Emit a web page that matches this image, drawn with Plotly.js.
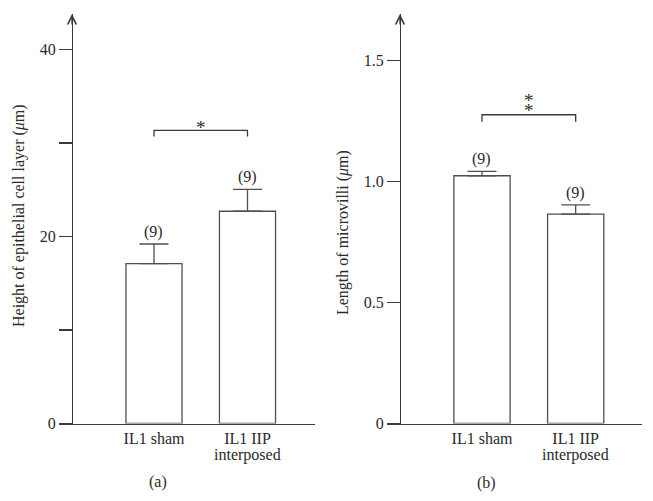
<!DOCTYPE html>
<html>
<head>
<meta charset="utf-8">
<script src="https://cdn.plot.ly/plotly-3.0.1.min.js"></script>
<style>
  html, body { margin:0; padding:0; background:#fff; }
  #chart { width:653px; height:501px; }
</style>
</head>
<body>
<div id="chart"></div>
<script>
// Data
var groups = ["IL1 sham", "IL1 IIP"];
var groupSub = ["", "interposed"];
var groupPos = [0, 1];
var nCounts = [9, 9];

// (a) height of epithelial cell layer (um)
var heightMean = [17.1, 22.7];
var heightSem = [2.1, 2.35];
var bracketA = 31.35, bracketALeg = 30.7;

// (b) length of microvilli (um)
var villiMean = [1.023, 0.865];
var villiSem = [0.018, 0.038];
var bracketB = 1.275, bracketBLeg = 1.246;

var FONT = "Liberation Serif, Times New Roman, serif";
var AX = "#3a3a3a", BAR = "#505050";
var W = 653, H = 501;

function barTrace(y, err, xa, ya) {
  return {
    type: "bar", x: groupPos, y: y, width: 0.6, xaxis: xa, yaxis: ya,
    marker: { color: "#fff", line: { color: BAR, width: 1.3 } },
    error_y: { type: "data", symmetric: false, array: err, arrayminus: [0, 0],
      width: 14.5, thickness: 1.3, color: BAR },
    hoverinfo: "skip", showlegend: false
  };
}
function bracketTrace(hi, lo, xa, ya) {
  return {
    type: "scatter", mode: "lines", x: [groupPos[0], groupPos[0], groupPos[1], groupPos[1]],
    y: [lo, hi, hi, lo], xaxis: xa, yaxis: ya,
    line: { color: AX, width: 1.3 }, hoverinfo: "skip", showlegend: false
  };
}

var data = [
  barTrace(heightMean, heightSem, "x", "y"),
  bracketTrace(bracketA, bracketALeg, "x", "y"),
  barTrace(villiMean, villiSem, "x2", "y2"),
  bracketTrace(bracketB, bracketBLeg, "x2", "y2")
];

var yBottom = 1 - 423.5 / H, yTop = 1 - 14 / H;
var txt = { family: FONT, size: 16, color: "#2a2a2a" };
var xAxisBase = {
  type: "linear", showline: true, linecolor: AX, linewidth: 1.3, showgrid: false, zeroline: false,
  ticks: "", tickvals: groupPos, ticktext: groups, tickfont: txt, fixedrange: true
};
var yAxisBase = {
  showline: true, linecolor: AX, linewidth: 1.3, showgrid: false, zeroline: false,
  ticks: "outside", ticklen: 13, tickwidth: 1.3, tickcolor: AX,
  tickfont: txt, domain: [yBottom, yTop], anchor: "free", fixedrange: true
};

var layout = {
  width: W, height: H, margin: { l: 0, r: 0, t: 0, b: 0 },
  paper_bgcolor: "#fff", plot_bgcolor: "rgba(0,0,0,0)", showlegend: false,
  xaxis: Object.assign({}, xAxisBase, { domain: [59 / W, 315 / W], range: [-1.016, 1.722], anchor: "y" }),
  yaxis: Object.assign({}, yAxisBase, { range: [0, 43.8], position: 72 / W,
    tickvals: [0, 10, 20, 30, 40], ticktext: ["0", "", "20", "", "40"] }),
  xaxis2: Object.assign({}, xAxisBase, { domain: [386.7 / W, 642.3 / W], range: [-1.017, 1.711], anchor: "y2" }),
  yaxis2: Object.assign({}, yAxisBase, { range: [0, 1.691], position: 400 / W,
    tickvals: [0, 0.5, 1.0, 1.5], ticktext: ["0", "0.5", "1.0", "1.5"] }),
  annotations: []
};

var ann = layout.annotations;
var star = { family: FONT, size: 19, color: "#2a2a2a" };

function paperText(x, y, text, extra) {
  ann.push(Object.assign({ xref: "paper", yref: "paper", x: x / W, y: 1 - y / H,
    xanchor: "center", yanchor: "middle", text: text, showarrow: false, font: txt }, extra || {}));
}

// axis arrows
[72 / W, 400 / W].forEach(function (px) {
  ann.push({ xref: "paper", yref: "paper", x: px, y: yTop, ax: 0, ay: 12, text: "",
    showarrow: true, arrowhead: 5, arrowsize: 1.3, arrowwidth: 1.3, arrowcolor: AX });
});

// second line of the category labels (tighter than a <br>)
["x", "x2"].forEach(function (xr) {
  for (var i = 0; i < groupSub.length; i++) {
    if (!groupSub[i]) continue;
    ann.push({ xref: xr, yref: "paper", x: groupPos[i], y: 1 - 455 / H, yanchor: "middle",
      text: groupSub[i], showarrow: false, font: txt });
  }
});

// n labels
function nLabels(mean, err, xr, yr) {
  for (var i = 0; i < mean.length; i++) {
    ann.push({ xref: xr, yref: yr, x: groupPos[i], y: mean[i] + err[i], yanchor: "bottom",
      yshift: 1, text: "(" + nCounts[i] + ")", showarrow: false, font: txt });
  }
}
nLabels(heightMean, heightSem, "x", "y");
nLabels(villiMean, villiSem, "x2", "y2");

// significance stars
ann.push({ xref: "x", yref: "y", x: 0.5, y: bracketA, yanchor: "middle", yshift: 3,
  text: "*", showarrow: false, font: star });
ann.push({ xref: "x2", yref: "y2", x: 0.5, y: bracketB, yanchor: "middle", yshift: 4,
  text: "*", showarrow: false, font: star });
ann.push({ xref: "x2", yref: "y2", x: 0.5, y: bracketB, yanchor: "middle", yshift: 14,
  text: "*", showarrow: false, font: star });

// y titles
paperText(19, 216, "Height of epithelial cell layer (<i>μ</i>m)", { textangle: -90 });
paperText(343, 233, "Length of microvilli (<i>μ</i>m)", { textangle: -90 });

// panel letters
paperText(158, 482, "(a)");
paperText(486, 483, "(b)");

Plotly.newPlot("chart", data, layout, { displayModeBar: false, staticPlot: true });
</script>
</body>
</html>
